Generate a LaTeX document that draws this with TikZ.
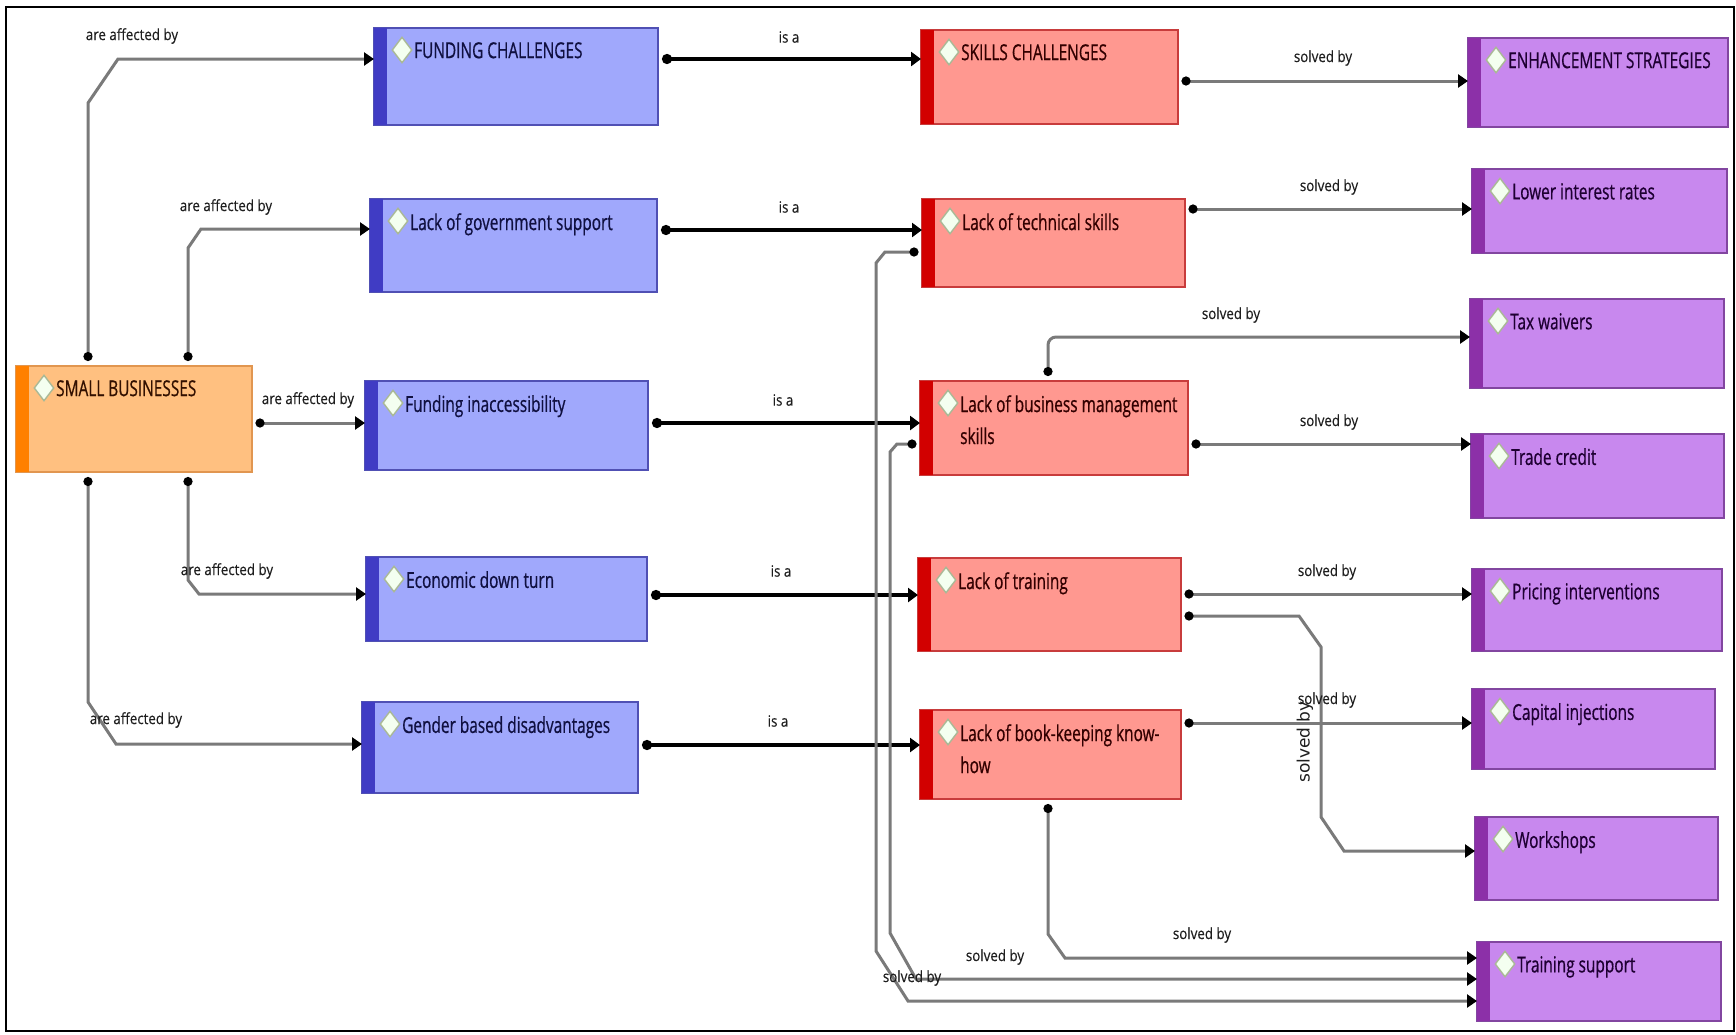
\documentclass[tikz,border=0pt]{standalone}
\usepackage{fontspec}
\setmainfont{Open Sans}
\newfontfamily\nodefnt{Open Sans}[FakeStretch=0.70,FakeBold=0.6]
\newfontfamily\lblfnt{Open Sans}[FakeStretch=0.86,FakeBold=0.3]
\newfontfamily\rotfnt{DejaVu Sans}
\usetikzlibrary{arrows.meta,shapes.geometric}
\definecolor{bfill}{RGB}{160,168,252}
\definecolor{bstrip}{RGB}{64,60,196}
\definecolor{bline}{RGB}{80,80,180}
\definecolor{btext}{RGB}{16,16,64}
\definecolor{rfill}{RGB}{255,152,144}
\definecolor{rstrip}{RGB}{210,0,0}
\definecolor{rline}{RGB}{200,60,60}
\definecolor{rtext}{RGB}{50,0,0}
\definecolor{pfill}{RGB}{200,136,238}
\definecolor{pstrip}{RGB}{140,48,168}
\definecolor{pline}{RGB}{130,70,160}
\definecolor{ptext}{RGB}{30,0,50}
\definecolor{ofill}{RGB}{255,192,128}
\definecolor{ostrip}{RGB}{255,128,0}
\definecolor{oline}{RGB}{225,150,80}
\definecolor{otext}{RGB}{50,16,0}
\definecolor{dfill}{RGB}{244,255,240}
\definecolor{dline}{RGB}{170,185,150}
\definecolor{relgray}{RGB}{122,122,122}
\definecolor{lbltext}{RGB}{30,30,30}
\tikzset{
  cbox/.style={draw, line width=1.2pt, inner sep=0pt, outer sep=0pt, anchor=north west},
  diam/.style={diamond, draw=dline, fill=dfill, line width=1.4pt, minimum width=20pt, minimum height=26pt, inner sep=0pt},
  ntext/.style={anchor=north west, inner sep=0pt, align=left, font=\nodefnt\fontsize{22}{32}\selectfont},
  lbl/.style={inner sep=0pt, text=lbltext, font=\lblfnt\fontsize{15.5}{18}\selectfont},
  rotlbl/.style={inner sep=0pt, text=lbltext, rotate=90, font=\rotfnt\fontsize{17}{20}\selectfont},
  rel/.style={draw=relgray, line width=3pt, shorten <=3.5pt,
    {Circle[length=9pt,color=black]}-{Triangle[length=10pt,width=13pt,color=black]}},
  isa/.style={draw=black, line width=4pt, shorten <=4pt,
    {Circle[length=10pt]}-{Triangle[length=10pt,width=14pt]}},
}
\newcommand\cmapbox[7]{%
  \node[cbox, fill=#6fill, draw=#6line, minimum width={#4-#2}, minimum height={#5-#3}] (#1) at (#2,#3) {};
  \fill[#6strip] (#1.north west) rectangle ([xshift=13pt]#1.south west);
  \node[diam] (#1-d) at ([xshift=28pt,yshift=-22pt]#1.north west) {};
  \node[ntext, text=#6text] (#1-t) at ([xshift=40pt,yshift=-14pt]#1.north west) {#7};
}
\begin{document}
\begin{tikzpicture}[x=1pt,y=-1pt]
\fill[white] (0,0) rectangle (1736,1034);
\useasboundingbox (0,0) rectangle (1736,1034);
\draw[line width=2pt] (6,7) rectangle (1734,1031);

% boxes
\cmapbox{sb}{16}{366}{252}{472}{o}{SMALL BUSINESSES}
\cmapbox{fc}{374}{28}{658}{125}{b}{FUNDING CHALLENGES}
\cmapbox{lgs}{370}{199}{657}{292}{b}{Lack of government support}
\cmapbox{fi}{365}{381}{648}{470}{b}{Funding inaccessibility}
\cmapbox{edt}{366}{557}{647}{641}{b}{Economic down turn}
\cmapbox{gbd}{362}{702}{638}{793}{b}{Gender based disadvantages}
\cmapbox{sc}{921}{30}{1178}{124}{r}{SKILLS CHALLENGES}
\cmapbox{lts}{922}{199}{1185}{287}{r}{Lack of technical skills}
\cmapbox{lbms}{920}{381}{1188}{475}{r}{Lack of business management\\skills}
\cmapbox{lt}{918}{558}{1181}{651}{r}{Lack of training}
\cmapbox{lbk}{920}{710}{1181}{799}{r}{Lack of book-keeping know-\\how}
\cmapbox{enh}{1468}{38}{1728}{127}{p}{ENHANCEMENT STRATEGIES}
\cmapbox{lir}{1472}{169}{1727}{253}{p}{Lower interest rates}
\cmapbox{tw}{1470}{299}{1724}{388}{p}{Tax waivers}
\cmapbox{tc}{1471}{434}{1724}{518}{p}{Trade credit}
\cmapbox{pi}{1472}{569}{1722}{651}{p}{Pricing interventions}
\cmapbox{ci}{1472}{689}{1715}{769}{p}{Capital injections}
\cmapbox{ws}{1475}{817}{1718}{900}{p}{Workshops}
\cmapbox{ts}{1477}{942}{1721}{1021}{p}{Training support}

% are affected by
\draw[rel, shorten <=5pt] (sb.north -| 88,0) -- (88,103) -- (118,59) -- (fc.west |- 0,59);
\draw[rel, shorten <=5pt] (sb.north -| 188,0) -- (188,248) -- (201,229) -- (lgs.west |- 0,229);
\draw[rel] (sb.east |- 0,423) -- (fi.west |- 0,423);
\draw[rel, shorten <=5pt] (sb.south -| 188,0) -- (188,580) -- (199,594) -- (edt.west |- 0,594);
\draw[rel, shorten <=5pt] (sb.south -| 88,0) -- (88,702) -- (116,744) -- (gbd.west |- 0,744);

% is a
\draw[isa] (fc.east |- 0,59) -- (sc.west |- 0,59);
\draw[isa] (lgs.east |- 0,230) -- (lts.west |- 0,230);
\draw[isa] (fi.east |- 0,423) -- (lbms.west |- 0,423);
\draw[isa] (edt.east |- 0,595) -- (lt.west |- 0,595);
\draw[isa] (gbd.east |- 0,745) -- (lbk.west |- 0,745);

% solved by
\draw[rel] (sc.east |- 0,81) -- (enh.west |- 0,81);
\draw[rel] (lts.east |- 0,209) -- (lir.west |- 0,209);
\draw[rel, shorten <=5pt, rounded corners=8pt] (lbms.north -| 1048,0) -- (1048,337) -- (tw.west |- 0,337);
\draw[rel] (lbms.east |- 0,444) -- (tc.west |- 0,444);
\draw[rel] (lt.east |- 0,594) -- (pi.west |- 0,594);
\draw[rel] (lt.east |- 0,616) -- (1299,616) -- (1321,647) -- (1321,817) -- (1344,851) -- (ws.west |- 0,851);
\draw[rel] (lbk.east |- 0,723) -- (ci.west |- 0,723);
\draw[rel, shorten <=5pt] (lbk.south -| 1048,0) -- (1048,934) -- (1065,958) -- (ts.west |- 0,958);
\draw[rel] (lts.west |- 0,252) -- (885,252) -- (876,263) -- (876,951) -- (908,1001) -- (ts.west |- 0,1001);
\draw[rel] (lbms.west |- 0,444) -- (897,444) -- (890,452) -- (890,933) -- (916,979) -- (ts.west |- 0,979);

% labels
\node[lbl] (l1) at (132,36) {are affected by};
\node[lbl] (l2) at (226,207) {are affected by};
\node[lbl] (l3) at (308,400) {are affected by};
\node[lbl] (l4) at (227,571) {are affected by};
\node[lbl] (l5) at (136,720) {are affected by};
\node[lbl] (i1) at (789,37) {is a};
\node[lbl] (i2) at (789,207) {is a};
\node[lbl] (i3) at (783,400) {is a};
\node[lbl] (i4) at (781,571) {is a};
\node[lbl] (i5) at (778,721) {is a};
\node[lbl] (s1) at (1323,58) {solved by};
\node[lbl] (s2) at (1329,187) {solved by};
\node[lbl] (s3) at (1231,315) {solved by};
\node[lbl] (s4) at (1329,422) {solved by};
\node[lbl] (s5) at (1327,572) {solved by};
\node[lbl] (s6) at (1327,700) {solved by};
\node[lbl] (s7) at (1202,935) {solved by};
\node[lbl] (s8) at (995,957) {solved by};
\node[lbl] (s9) at (912,978) {solved by};
\node[rotlbl] (s10) at (1305,742) {solved by};
\end{tikzpicture}
\end{document}
